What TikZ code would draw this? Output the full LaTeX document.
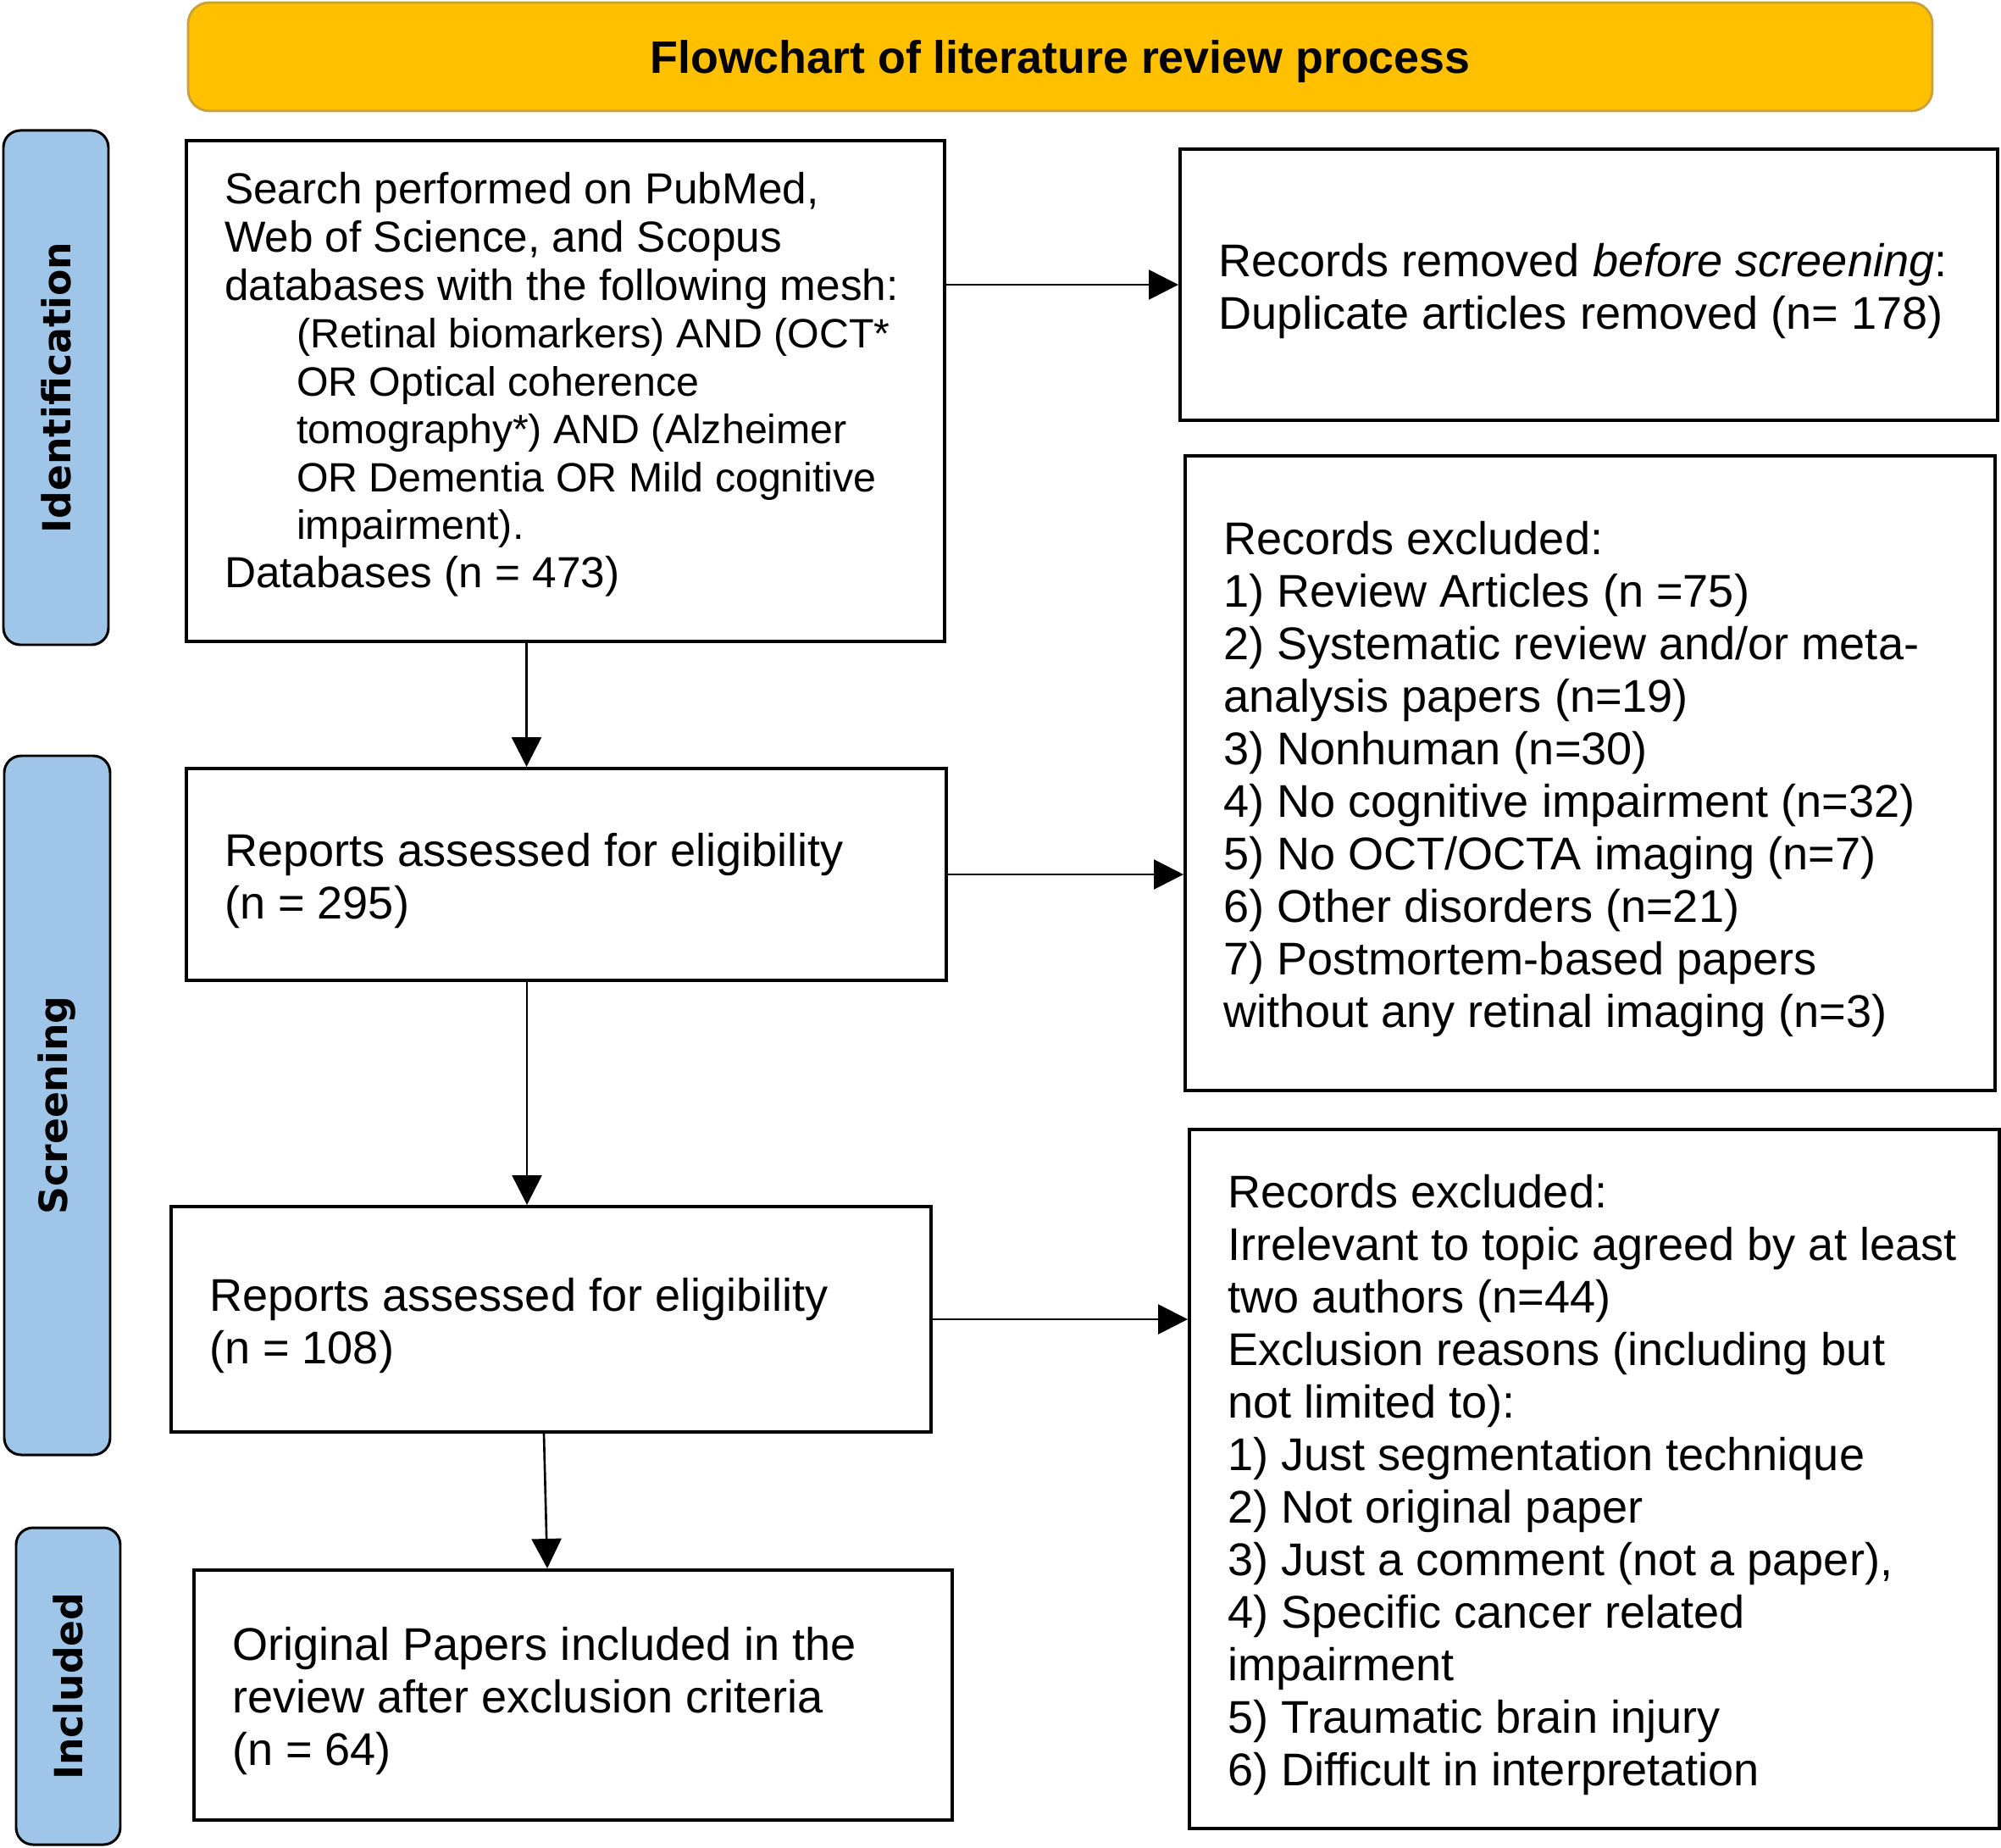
\documentclass[tikz,border=0pt]{standalone}
\usepackage{fontspec}
\setmainfont{Liberation Sans}
\newfontfamily\stagefont{DejaVu Sans}
\usetikzlibrary{arrows.meta}
\definecolor{titlegold}{HTML}{FFC000}
\definecolor{titleedge}{HTML}{C9A03A}
\definecolor{stageblue}{HTML}{9FC5E8}
\newcommand{\meshline}[1]{\hspace*{0.85cm}{\fontsize{13.75}{16.1}\selectfont #1}}

\begin{document}
\begin{tikzpicture}[
        stage/.style={draw=black, line width=0.85pt, fill=stageblue, rounded corners=0.2cm, rotate=90,
                      inner sep=0pt, font=\stagefont\bfseries\fontsize{13}{15}\selectfont},
        box/.style={draw=black, line width=1.15pt, anchor=north west, align=left,
                    inner xsep=0.45cm, inner ysep=0pt, text height=0.54cm,
                    font=\fontsize{15.4}{17.64}\selectfont,
                    execute at begin node={\spaceskip=0pt\xspaceskip=0pt}},
        arr/.style={-{Triangle[length=0.35cm, width=0.35cm]}, line width=0.75pt}]
        \useasboundingbox (0,0) rectangle (23.62,-21.80);

        \node [draw=titleedge, line width=0.8pt, fill=titlegold, rounded corners=0.25cm,
               minimum width=20.59cm, minimum height=1.28cm, text depth=0pt,
               font=\bfseries\fontsize{15.3}{18}\selectfont] (title) at (12.515,-0.67) {Flowchart of literature review process};

        \node [stage, minimum width=6.07cm, minimum height=1.24cm] (ident) at (0.66,-4.575) {Identification};
        \node [stage, minimum width=8.25cm, minimum height=1.25cm] (screen) at (0.675,-13.045) {Screening};
        \node [stage, minimum width=3.74cm, minimum height=1.23cm] (incl) at (0.805,-19.90) {Included};

        \node [box, text width=8.05cm, minimum height=5.91cm, text height=0.22cm,
               font=\fontsize{14.6}{16.1}\selectfont] (search) at (2.18,-1.64)
              {Search performed on PubMed,\\
               Web of Science, and Scopus\\
               databases with the following mesh:\\
               \meshline{(Retinal biomarkers) AND (OCT*}\\
               \meshline{OR Optical coherence}\\
               \meshline{tomography*) AND (Alzheimer}\\
               \meshline{OR Dementia OR Mild cognitive}\\
               \meshline{impairment).}\\
               Databases (n = 473)};
        \node [box, text width=8.07cm, minimum height=2.50cm] (rep1) at (2.18,-9.05)
              {Reports assessed for eligibility\\ (n = 295)};
        \node [box, text width=8.07cm, minimum height=2.66cm] (rep2) at (2.00,-14.22)
              {Reports assessed for eligibility\\ (n = 108)};
        \node [box, text width=8.05cm, minimum height=2.95cm] (final) at (2.27,-18.51)
              {Original Papers included in the\\ review after exclusion criteria\\ (n = 64)};

        \node [box, text width=8.75cm, minimum height=3.20cm] (removed) at (13.91,-1.74)
              {Records removed \textit{before screening}:\\ Duplicate articles removed (n= 178)};
        \node [box, text width=8.66cm, minimum height=7.49cm] (excl1) at (13.97,-5.36)
              {Records excluded:\\
               1) Review Articles (n =75)\\
               2) Systematic review and/or meta-\\
               analysis papers (n=19)\\
               3) Nonhuman (n=30)\\
               4) No cognitive impairment (n=32)\\
               5) No OCT/OCTA imaging (n=7)\\
               6) Other disorders (n=21)\\
               7) Postmortem-based papers\\
               without any retinal imaging (n=3)};
        \node [box, text width=8.66cm, minimum height=8.25cm] (excl2) at (14.02,-13.31)
              {Records excluded:\\
               Irrelevant to topic agreed by at least\\
               two authors (n=44)\\
               Exclusion reasons (including but\\
               not limited to):\\
               1) Just segmentation technique\\
               2) Not original paper\\
               3) Just a comment (not a paper),\\
               4) Specific cancer related\\
               impairment\\
               5) Traumatic brain injury\\
               6) Difficult in interpretation};

        \draw [arr] (removed.west -| search.east) -- (removed.west);
        \draw [arr] ([xshift=-0.46cm]search.south) -- ([xshift=-0.46cm]search.south |- rep1.north);
        \draw [arr] (rep1.east) -- (rep1.east -| excl1.west);
        \draw [arr] ([xshift=-0.465cm]rep1.south) -- ([xshift=-0.465cm]rep1.south |- rep2.north);
        \draw [arr] (rep2.east) -- (rep2.east -| excl2.west);
        \draw [arr] ([xshift=-0.085cm]rep2.south) -- ([xshift=-0.305cm]final.north);
\end{tikzpicture}
\end{document}
